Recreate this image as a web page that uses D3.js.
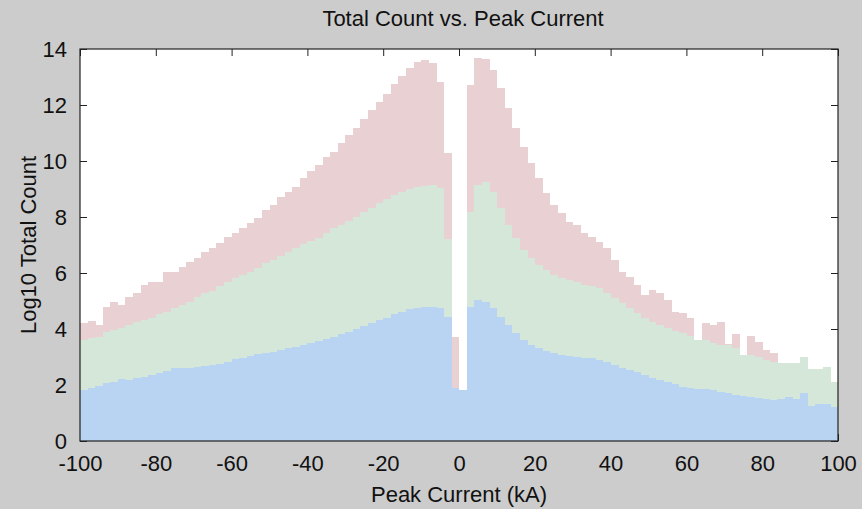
<!DOCTYPE html>
<html>
<head>
<meta charset="utf-8">
<script src="https://cdn.jsdelivr.net/npm/d3@7/dist/d3.min.js"></script>
<style>
  html, body { margin: 0; padding: 0; background: #cccccc; }
  svg { display: block; }
  text { font-family: "Liberation Sans", Arial, Helvetica, sans-serif; fill: #111; }
</style>
</head>
<body>
<svg id="chart" width="862" height="509"></svg>
<script>
// Left edges of the 2 kA peak-current bins (kA)
const binStart = [
  -100, -98, -96, -94, -92, -90, -88, -86, -84, -82,
  -80, -78, -76, -74, -72, -70, -68, -66, -64, -62,
  -60, -58, -56, -54, -52, -50, -48, -46, -44, -42,
  -40, -38, -36, -34, -32, -30, -28, -26, -24, -22,
  -20, -18, -16, -14, -12, -10, -8, -6, -4, -2,
  0, 2, 4, 6, 8, 10, 12, 14, 16, 18,
  20, 22, 24, 26, 28, 30, 32, 34, 36, 38,
  40, 42, 44, 46, 48, 50, 52, 54, 56, 58,
  60, 62, 64, 66, 68, 70, 72, 74, 76, 78,
  80, 82, 84, 86, 88, 90, 92, 94, 96, 98
];
const binWidth = 2;

// Log10 total count per bin, three overlaid series (back to front)
const seriesRed = [
  4.20, 4.28, 4.14, 4.80, 4.98, 4.86, 5.16, 5.27, 5.57, 5.67,
  5.67, 6.04, 6.02, 6.22, 6.40, 6.52, 6.74, 6.88, 7.06, 7.30,
  7.42, 7.62, 7.77, 7.98, 8.25, 8.43, 8.72, 8.90, 9.08, 9.38,
  9.64, 9.86, 10.15, 10.33, 10.63, 10.93, 11.19, 11.50, 11.82, 12.10,
  12.38, 12.74, 13.05, 13.33, 13.55, 13.61, 13.49, 12.81, 10.27, 3.71,
  1.82, 12.71, 13.67, 13.65, 13.25, 12.60, 11.90, 11.17, 10.51, 9.92,
  9.38, 8.85, 8.43, 8.13, 7.83, 7.71, 7.42, 7.30, 7.12, 6.88,
  6.46, 6.05, 5.87, 5.57, 5.21, 5.39, 5.27, 5.04, 4.62, 4.56,
  4.38, 3.60, 4.20, 4.14, 4.26, 3.45, 3.83, 3.07, 3.76, 3.55,
  3.25, 3.13, 2.77, 2.77, 2.77, 3.00, 2.58, 2.58, 2.65, 2.12
];
const seriesGreen = [
  3.61, 3.67, 3.73, 3.88, 3.96, 4.05, 4.14, 4.24, 4.32, 4.40,
  4.52, 4.62, 4.74, 4.86, 4.98, 5.16, 5.28, 5.36, 5.52, 5.67,
  5.81, 5.93, 6.05, 6.19, 6.35, 6.46, 6.62, 6.76, 6.90, 7.02,
  7.14, 7.26, 7.42, 7.60, 7.71, 7.86, 8.01, 8.19, 8.33, 8.49,
  8.64, 8.79, 8.90, 9.00, 9.08, 9.12, 9.14, 9.02, 7.20, 1.89,
  1.82, 8.19, 9.14, 9.26, 8.90, 8.31, 7.71, 7.24, 6.82, 6.52,
  6.29, 6.11, 5.93, 5.83, 5.75, 5.67, 5.57, 5.55, 5.45, 5.27,
  5.10, 4.92, 4.74, 4.56, 4.40, 4.26, 4.14, 4.02, 3.93, 3.85,
  3.76, 3.60, 3.61, 3.49, 3.43, 3.43, 3.31, 3.07, 3.07, 3.01,
  2.89, 2.83, 2.77, 2.77, 2.77, 3.00, 2.58, 2.58, 2.65, 2.12
];
const seriesBlue = [
  1.82, 1.88, 1.98, 2.06, 2.12, 2.21, 2.18, 2.24, 2.30, 2.36,
  2.42, 2.50, 2.60, 2.62, 2.62, 2.65, 2.69, 2.72, 2.76, 2.83,
  2.92, 2.98, 3.04, 3.10, 3.14, 3.19, 3.25, 3.31, 3.37, 3.43,
  3.49, 3.57, 3.64, 3.73, 3.81, 3.90, 4.00, 4.10, 4.23, 4.32,
  4.40, 4.52, 4.62, 4.70, 4.76, 4.80, 4.80, 4.74, 4.44, 1.89,
  1.82, 4.80, 5.04, 4.96, 4.74, 4.44, 4.14, 3.85, 3.61, 3.43,
  3.31, 3.21, 3.13, 3.07, 3.05, 3.01, 2.98, 2.95, 2.89, 2.81,
  2.71, 2.62, 2.54, 2.45, 2.36, 2.26, 2.18, 2.12, 2.02, 1.94,
  1.88, 1.86, 1.84, 1.82, 1.76, 1.70, 1.64, 1.62, 1.58, 1.55,
  1.50, 1.45, 1.50, 1.58, 1.50, 1.70, 1.25, 1.31, 1.31, 1.20
];

const xTickValues = [-100, -80, -60, -40, -20, 0, 20, 40, 60, 80, 100];
const yTickValues = [0, 2, 4, 6, 8, 10, 12, 14];

const titleText = "Total Count vs. Peak Current";
const xLabelText = "Peak Current (kA)";
const yLabelText = "Log10 Total Count";

const layers = [
  { values: seriesRed,   color: "#e9d0d3" },
  { values: seriesGreen, color: "#d4e7d8" },
  { values: seriesBlue,  color: "#b9d3f3" }
];

const svg = d3.select("#chart");
const W = 862, H = 509;
const margin = { left: 80, right: 24, top: 49, bottom: 68 };
const plotW = W - margin.left - margin.right;
const plotH = H - margin.top - margin.bottom;

const x = d3.scaleLinear().domain([-100, 100]).range([margin.left, margin.left + plotW]);
const y = d3.scaleLinear().domain([0, 14]).range([margin.top + plotH, margin.top]);

// white plotting area
svg.append("rect")
  .attr("x", x(-100)).attr("y", y(14))
  .attr("width", x(100) - x(-100)).attr("height", y(0) - y(14))
  .attr("fill", "#ffffff");

const fmt = d => String(d);
const fontSize = 22;

function styleAxis(g) {
  g.select(".domain").remove();
  g.selectAll(".tick line").attr("stroke", "#222").attr("stroke-width", 1);
  g.selectAll(".tick text").attr("font-size", fontSize).attr("fill", "#111")
    .attr("font-family", '"Liberation Sans", Arial, sans-serif');
}

// inward ticks on all four sides (drawn beneath the bars)
svg.append("g")
  .attr("transform", `translate(0,${y(0)})`)
  .call(d3.axisBottom(x).tickValues(xTickValues).tickFormat(fmt).tickSizeInner(-7).tickSizeOuter(0).tickPadding(14))
  .call(styleAxis);
svg.append("g")
  .attr("transform", `translate(${x(-100)},0)`)
  .call(d3.axisLeft(y).tickValues(yTickValues).tickFormat(fmt).tickSizeInner(-7).tickSizeOuter(0).tickPadding(13))
  .call(styleAxis);
svg.append("g")
  .attr("transform", `translate(0,${y(14)})`)
  .call(d3.axisTop(x).tickValues(xTickValues).tickFormat("").tickSizeInner(-7).tickSizeOuter(0))
  .call(styleAxis);
svg.append("g")
  .attr("transform", `translate(${x(100)},0)`)
  .call(d3.axisRight(y).tickValues(yTickValues).tickFormat("").tickSizeInner(-7).tickSizeOuter(0))
  .call(styleAxis);

// overlaid histogram bars
const bars = svg.append("g").attr("shape-rendering", "crispEdges");
layers.forEach(layer => {
  bars.append("g")
    .selectAll("rect")
    .data(binStart.map((b, i) => ({ b, v: layer.values[i] })))
    .join("rect")
    .attr("x", d => x(d.b))
    .attr("width", d => x(d.b + binWidth) - x(d.b) + 0.4)
    .attr("y", d => y(d.v))
    .attr("height", d => y(0) - y(d.v))
    .attr("fill", layer.color);
});

// axes box
svg.append("rect")
  .attr("x", x(-100)).attr("y", y(14))
  .attr("width", x(100) - x(-100)).attr("height", y(0) - y(14))
  .attr("fill", "none").attr("stroke", "#222").attr("stroke-width", 1.2);

// title and axis labels
svg.append("text")
  .attr("x", 463).attr("y", 26)
  .attr("text-anchor", "middle").attr("font-size", fontSize)
  .text(titleText);
svg.append("text")
  .attr("x", (x(-100) + x(100)) / 2).attr("y", 502)
  .attr("text-anchor", "middle").attr("font-size", fontSize)
  .text(xLabelText);
svg.append("text")
  .attr("transform", `translate(36,${(y(0) + y(14)) / 2}) rotate(-90)`)
  .attr("text-anchor", "middle").attr("font-size", fontSize)
  .text(yLabelText);
</script>
</body>
</html>
